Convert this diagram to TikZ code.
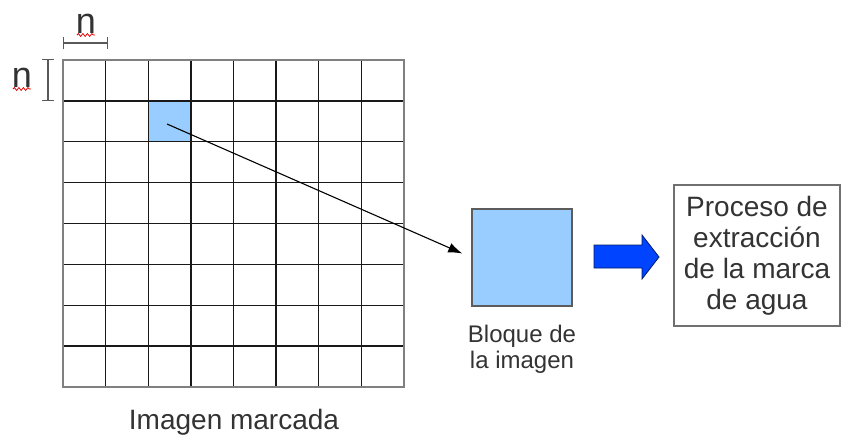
\documentclass[tikz,border=0pt]{standalone}
\usepackage{fontspec}
\setmainfont{Liberation Sans}
\usetikzlibrary{arrows.meta}
\usetikzlibrary{positioning}
\usetikzlibrary{decorations.pathmorphing}

\definecolor{celeste}{HTML}{99CCFF}
\definecolor{azulflecha}{HTML}{0044FF}
\definecolor{grisoscuro}{HTML}{333333}

\tikzset{
    texto/.style={text=grisoscuro,align=center,inner sep=0pt},
    rejilla/.style={line width=1.4pt,black!90},
    cota/.style={gray!70!black,line width=1.4pt,{Bar[width=12pt]}-{Bar[width=12pt]}},
    subrayado/.style={red!90!black,line width=0.8pt,decorate,decoration={snake,amplitude=1.4pt,segment length=4.5pt}}
}

\begin{document}
\begin{tikzpicture}[x=1pt,y=-1pt]
                \useasboundingbox (0,0) rectangle (843,437);
                \fill[celeste] (148.875,100.875) rectangle (191.5,141.75);
                \foreach \i in {1,...,7} {
                    \draw[rejilla] ({63+42.625*\i},60) -- ({63+42.625*\i},387);
                    \draw[rejilla] (63,{60+40.875*\i}) -- (404,{60+40.875*\i});
                }
                \draw[line width=1.3pt,gray] (63,60) rectangle (404,387);
                \coordinate (inicio) at (167,124);
                \node[texto,font=\fontsize{28}{28}\selectfont] (titulo) at (234,422.5) {Imagen marcada};
                \draw[cota] (63,43) -- (108,43);
                \draw[cota] (48,59) -- (48,101);
                \node[texto,anchor=base,font=\fontsize{36}{36}\selectfont] (nsup) at (86,33) {n};
                \node[texto,anchor=base,font=\fontsize{36}{36}\selectfont] (nizq) at (22,87) {n};
                \draw[subrayado] (77,35) -- (95,35);
                \draw[subrayado] (13,89) -- (31,89);
                \node[draw=grisoscuro!80,fill=celeste,line width=1.2pt,minimum width=100pt,minimum height=97pt,inner sep=0pt] (bloque) at (522,257.5) {};
                \draw[-{Latex[length=14pt,width=10pt]},line width=1.1pt,shorten >=10pt] (inicio) -- (bloque.west);
                \node[texto,font=\fontsize{24}{26}\selectfont,below=18pt of bloque] (etiqueta) {Bloque de\\la imagen};
                \node[draw=grisoscuro!70,line width=1.2pt,minimum width=166pt,minimum height=141pt,texto,font=\fontsize{28}{31}\selectfont] (proceso) at (757,255.5) {Proceso de\\extracción\\de la marca\\de agua};
                \draw[fill=azulflecha,draw=azulflecha!40!black,line width=0.8pt] (594,245) -- (642,245) -- (642,235) -- (659,257) -- (642,279) -- (642,268) -- (594,268) -- cycle;
            \end{tikzpicture}
\end{document}
